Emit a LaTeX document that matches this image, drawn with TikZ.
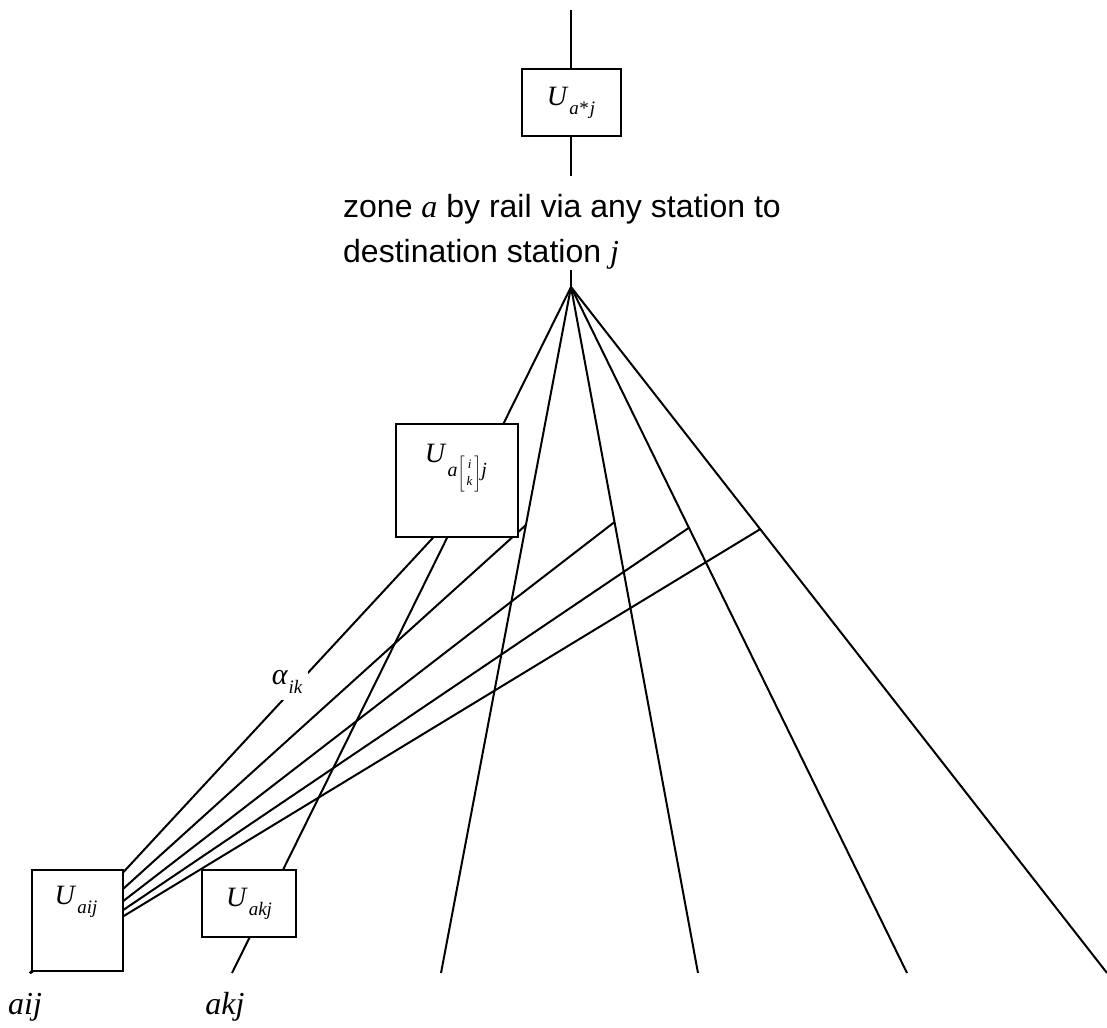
\documentclass[tikz,border=0pt]{standalone}
\usepackage{fontspec}
\setmainfont{Liberation Serif}
\setsansfont{Liberation Sans}
\usepackage{amsmath}
\usetikzlibrary{calc}
\newcommand{\Usb}[1]{\textit{U}\kern1pt\raisebox{-0.32em}{\fontsize{19}{21}\selectfont\itshape #1}}
\newcommand{\ikstack}{{\fontsize{13}{13}\selectfont\renewcommand{\arraystretch}{1.3}$\left[\begin{array}{@{\,}c@{\,}}\textit{i}\\ \textit{k}\end{array}\right]$}}
\begin{document}
\begin{tikzpicture}[x=1pt,y=-1pt,
  conn/.style={line width=2pt},
  box/.style={draw, fill=white, line width=2pt, inner sep=0pt},
  utext/.style={font=\fontsize{28}{32}\selectfont, inner sep=0pt},
  captext/.style={font=\sffamily\fontsize{32}{38}\selectfont, inner sep=0pt, anchor=base west},
  endlab/.style={font=\fontsize{32}{36}\selectfont\itshape, inner sep=0pt},
  alab/.style={font=\fontsize{30}{32}\selectfont, fill=white, inner sep=6pt}]
\useasboundingbox (0,0) rectangle (1107,1027);
% coordinates
\coordinate (top0) at (571,10);
\coordinate (top1) at (571,176);
\coordinate (s0) at (571,270);
\coordinate (P) at (571,287);
\coordinate (A) at (30,973);
\coordinate (b1) at (232,973);
\coordinate (b2) at (441,973);
\coordinate (b3) at (698,973);
\coordinate (b4) at (907,973);
\coordinate (b5) at (1107,973);
\coordinate (e1) at ($(P)!0.318!(b1)$);
\coordinate (e2) at ($(P)!0.347!(b2)$);
\coordinate (e3) at ($(P)!0.3426!(b3)$);
\coordinate (e4) at ($(P)!0.351!(b4)$);
\coordinate (e5) at ($(P)!0.353!(b5)$);
% fan lines
\draw[conn] (s0) -- (P);
\foreach \b in {b1,b2,b3,b4,b5} \draw[conn] (P) -- (\b);
\foreach \e in {e1,e2,e3,e4,e5} \draw[conn] (A) -- (\e);
% boxes
\node[box, minimum width=99pt, minimum height=67pt] (T) at (571,102.5) {};
\node[utext] (Tt) at (T.center) {\Usb{a\kern0.5pt{\upshape*}\kern1pt j}};
\draw[conn] (top0) -- (T.north);
\draw[conn] (T.south) -- (top1);
\node[box, minimum width=122pt, minimum height=113pt] (M) at (457,480.5) {};
\node[utext] (Mt) at (456,468) {\textit{U}\kern1pt\raisebox{-0.5em}{\fontsize{20}{22}\selectfont\itshape a\ikstack j}};
\node[box, minimum width=91pt, minimum height=101pt] (B1) at (77.5,920.5) {};
\node[utext] (B1t) at (76,902) {\Usb{aij}};
\node[box, minimum width=94pt, minimum height=67pt] (B2) at (249,903.5) {};
\node[utext] (B2t) at (B2.center) {\Usb{akj}};
% alpha label
\node[alab] (al) at (287,682) {\textit{α}\kern0.5pt\raisebox{-0.3em}{\fontsize{19}{21}\selectfont\itshape ik}};
% caption
\node[captext] (cap1) at (343,217) {zone {\rmfamily\itshape a} by rail via any station to};
\node[captext] (cap2) at (343,262) {destination station {\rmfamily\itshape j}};
% end labels
\node[endlab] (la) at (25,1007) {aij};
\node[endlab] (lk) at (225,1007) {akj};
\end{tikzpicture}
\end{document}
